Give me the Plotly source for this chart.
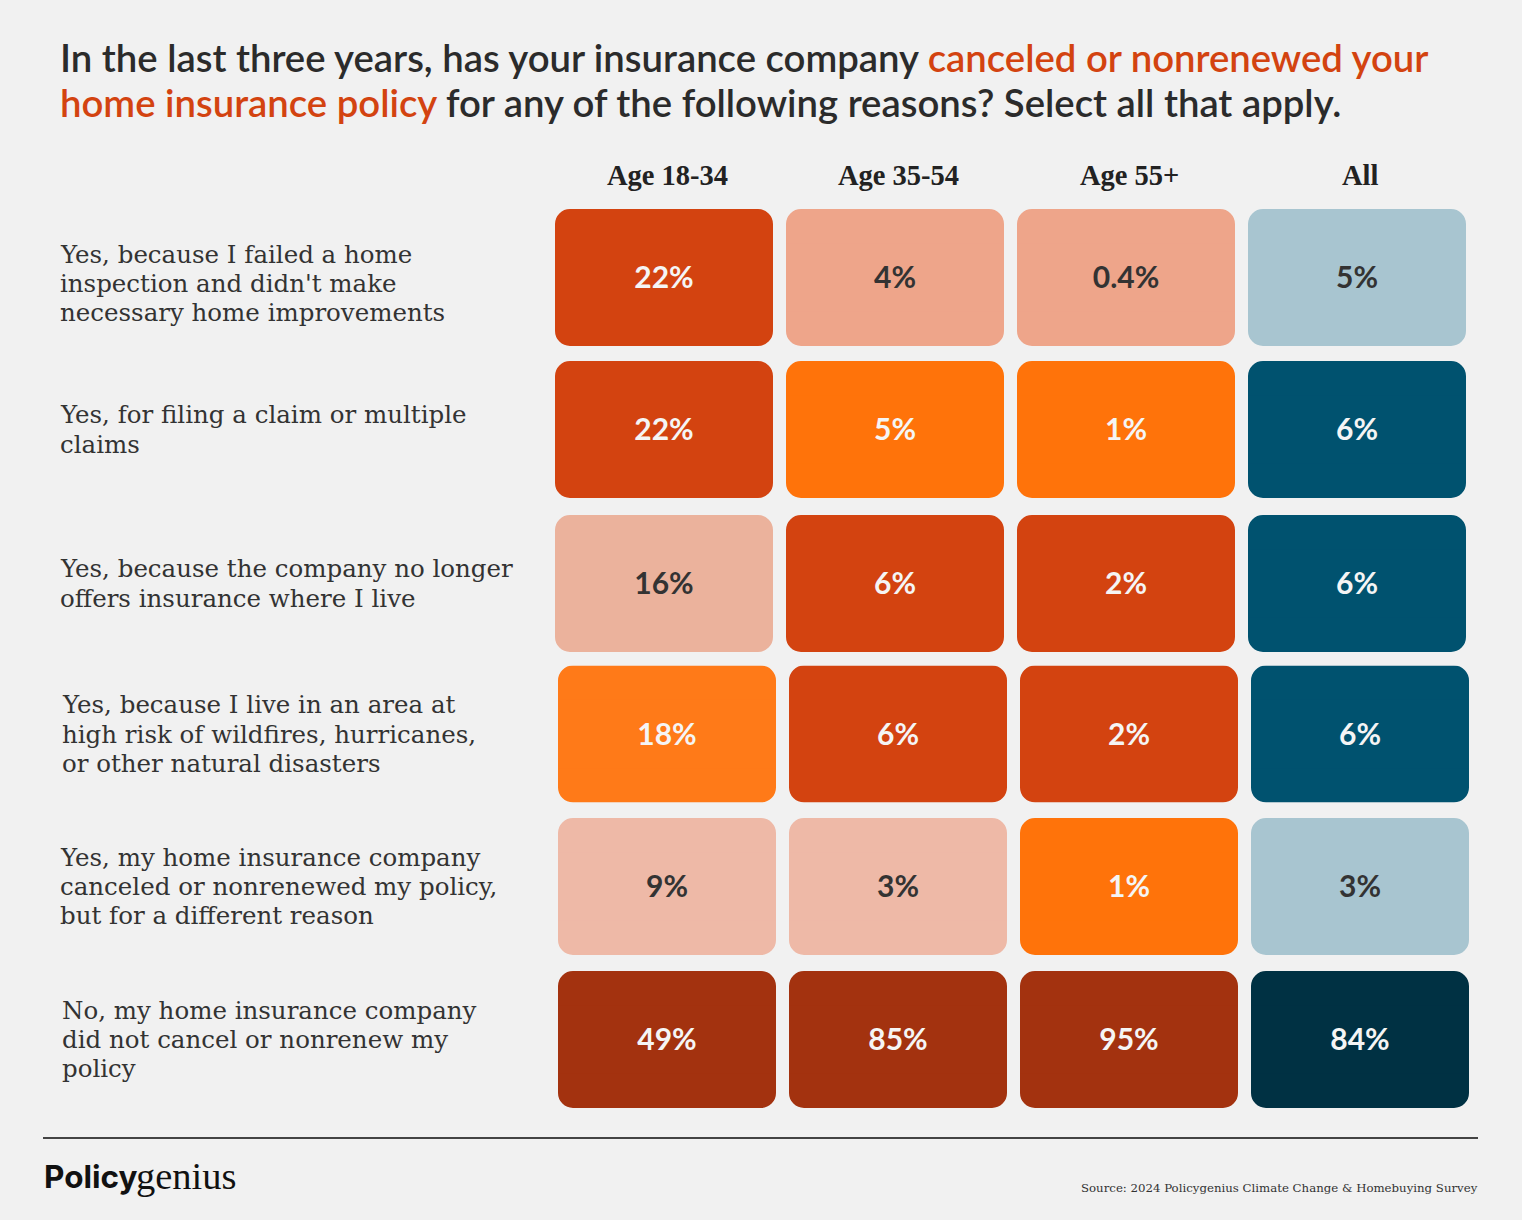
import plotly.graph_objects as go

W, H = 1522, 1220

columns = ["Age 18-34", "Age 35-54", "Age 55+", "All"]
reasons = [
    ["Yes, because I failed a home", "inspection and didn't make", "necessary home improvements"],
    ["Yes, for filing a claim or multiple", "claims"],
    ["Yes, because the company no longer", "offers insurance where I live"],
    ["Yes, because I live in an area at", "high risk of wildfires, hurricanes,", "or other natural disasters"],
    ["Yes, my home insurance company", "canceled or nonrenewed my policy,", "but for a different reason"],
    ["No, my home insurance company", "did not cancel or nonrenew my", "policy"],
]
labels = [
    ["22%", "4%", "0.4%", "5%"],
    ["22%", "5%", "1%", "6%"],
    ["16%", "6%", "2%", "6%"],
    ["18%", "6%", "2%", "6%"],
    ["9%", "3%", "1%", "3%"],
    ["49%", "85%", "95%", "84%"],
]
cell_colors = [
    ["#D34310", "#EEA58A", "#EEA58A", "#A8C5D0"],
    ["#D34310", "#FF730A", "#FF730A", "#00526F"],
    ["#EBB29C", "#D34310", "#D34310", "#00526F"],
    ["#FF7A18", "#D34310", "#D34310", "#00526F"],
    ["#EEB9A7", "#EEB9A7", "#FF730A", "#A8C5D0"],
    ["#A3320F", "#A3320F", "#A3320F", "#003143"],
]
text_colors = [
    ["#F5F5F5", "#333333", "#333333", "#333333"],
    ["#F5F5F5", "#F5F5F5", "#F5F5F5", "#F5F5F5"],
    ["#333333", "#F5F5F5", "#F5F5F5", "#F5F5F5"],
    ["#F5F5F5", "#F5F5F5", "#F5F5F5", "#F5F5F5"],
    ["#333333", "#333333", "#F5F5F5", "#333333"],
    ["#F5F5F5", "#F5F5F5", "#F5F5F5", "#F5F5F5"],
]

# pixel layout of the rows, the original was laid out by hand so they drift a bit
row_top = [209, 361, 515, 665.5, 818, 971]
row_left = [548.5, 548.5, 548.5, 551.5, 551.5, 551.5]
label_left = [58, 58, 58, 60, 58, 60]
label_shift = [6, 0, 0, 0, 0, 0]
row_h = 137
col_step = 231
line_h = 29.4

SANS = "Lato"
SERIF = "DejaVu Serif"

fig = go.Figure()
annotations = []

for i, row in enumerate(labels):
    n = i + 1
    # bars only round their far end, so each cell is an up half and a down half
    for half in (0.5, -0.5):
        fig.add_trace(go.Bar(
            x=columns,
            y=[half] * len(columns),
            xaxis=f"x{n}",
            yaxis=f"y{n}",
            marker=dict(color=cell_colors[i], line=dict(width=0), cornerradius=15),
            hoverinfo="skip",
            showlegend=False,
        ))
    # square patch over the seam between the halves
    fig.add_trace(go.Bar(
        x=columns,
        y=[0.5] * len(columns),
        base=-0.25,
        xaxis=f"x{n}",
        yaxis=f"y{n}",
        marker=dict(color=cell_colors[i], line=dict(width=0)),
        hoverinfo="skip",
        showlegend=False,
    ))
    fig.add_trace(go.Scatter(
        x=columns,
        y=[-0.022] * len(columns),
        text=row,
        mode="text",
        xaxis=f"x{n}",
        yaxis=f"y{n}",
        textposition="middle center",
        textfont=dict(family=SANS, size=30, weight=700, color=text_colors[i]),
        hoverinfo="skip",
        showlegend=False,
    ))
    fig.layout[f"xaxis{n}"] = dict(
        domain=[row_left[i] / W, (row_left[i] + col_step * 4) / W],
        anchor=f"y{n}", type="category", range=[-0.5, 3.5], visible=False,
        categoryorder="array", categoryarray=columns,
    )
    fig.layout[f"yaxis{n}"] = dict(
        domain=[1 - (row_top[i] + row_h) / H, 1 - row_top[i] / H],
        anchor=f"x{n}", range=[-0.5, 0.5], visible=False,
    )
    for k, line in enumerate(reasons[i]):
        annotations.append(dict(
            text=line, x=label_left[i] / W, xref="paper", xanchor="left",
            y=0, yref=f"y{n}", yanchor="middle",
            yshift=-(k - (len(reasons[i]) - 1) / 2) * line_h - label_shift[i],
            showarrow=False, font=dict(family=SERIF, size=24.5, color="#333333"),
        ))

# column headers sit over the lower rows' columns
for c in columns:
    annotations.append(dict(
        text=c, x=c, xref="x4", xanchor="center",
        y=1 - 176 / H, yref="paper", yanchor="middle", showarrow=False,
        font=dict(family="Liberation Serif", size=28.5, weight=700, color="#222222"),
    ))

title_lines = [
    ('In the last three years, has your insurance company '
     '<span style="color:#D34310">canceled or nonrenewed your</span>', 57),
    ('<span style="color:#D34310">home insurance policy</span> '
     'for any of the following reasons? Select all that apply.', 102),
]
for line, y_px in title_lines:
    annotations.append(dict(
        text=line, x=58 / W, xref="paper", xanchor="left",
        y=1 - y_px / H, yref="paper", yanchor="middle", showarrow=False,
        font=dict(family=SANS, size=38.3, weight=600, color="#2B2B2B"),
    ))

annotations.append(dict(
    text="Policy", x=42 / W, xref="paper", xanchor="left",
    y=1 - 1176 / H, yref="paper", yanchor="middle", showarrow=False,
    font=dict(family="Inter", size=31.5, weight=700, color="#111111"),
))
annotations.append(dict(
    text="genius", x=134 / W, xref="paper", xanchor="left",
    y=1 - 1176 / H, yref="paper", yanchor="middle", showarrow=False,
    font=dict(family="Liberation Serif", size=38.5, color="#111111"),
))
annotations.append(dict(
    text="Source: 2024 Policygenius Climate Change & Homebuying Survey",
    x=1480 / W, xref="paper", xanchor="right",
    y=1 - 1188 / H, yref="paper", yanchor="middle", showarrow=False,
    font=dict(family=SERIF, size=11.75, color="#333333"),
))

fig.update_layout(
    width=W, height=H,
    margin=dict(l=0, r=0, t=0, b=0),
    paper_bgcolor="#F1F1F1",
    plot_bgcolor="rgba(0,0,0,0)",
    barmode="overlay",
    bargap=0.0563,
    annotations=annotations,
    shapes=[dict(type="line", xref="paper", yref="paper",
                 x0=43 / W, x1=1478 / W, y0=1 - 1138 / H, y1=1 - 1138 / H,
                 line=dict(color="#444444", width=2))],
)

fig.write_html("out.html", config={"displayModeBar": False},
               post_script="document.body.style.margin='0';")
